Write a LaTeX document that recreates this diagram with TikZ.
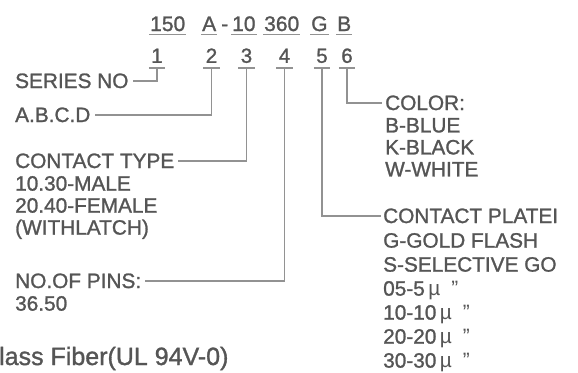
\documentclass[tikz,border=0pt]{standalone}
\usepackage{fontspec}
\setmainfont{Liberation Sans}
\newfontfamily\semibold[FakeBold=1.2]{Liberation Sans}
\usetikzlibrary{positioning}
\definecolor{inkgray}{HTML}{555555}
\definecolor{wiregray}{HTML}{929292}

\begin{document}
\begin{tikzpicture}[
    x=1pt, y=-1pt,
    every node/.style={text=inkgray, inner sep=0pt},
    code/.style={font=\fontsize{21}{21}\semibold, anchor=base west, inner xsep=1pt, inner ysep=3pt, text height=15pt, text depth=0pt},
    digit/.style={font=\fontsize{20.5}{20}\semibold, anchor=south, minimum width=16pt, inner ysep=5pt, text height=14pt, text depth=0pt},
    tag/.style={font=\fontsize{20.8}{22}\semibold, anchor=base west, text height=14pt, text depth=0pt},
    notes/.style={font=\fontsize{20.8}{22}\semibold, align=left},
    wire/.style={draw=wiregray, line width=1.3pt}
]
    \useasboundingbox[fill=white] (0,0) rectangle (578,372);

    % part number
    \node[code] (c150) at (149,31) {150};
    \node[code] (cA) at (201,31) {A};
    \node[code, inner ysep=0pt] (cdash) at (220,31) {-};
    \node[code] (c10) at (231,31) {10};
    \node[code] (c360) at (263,31) {360};
    \node[code] (cG) at (310,31) {G};
    \node[code] (cB) at (336,31) {B};
    \foreach \c in {c150,cA,c10,c360,cG,cB}
        \draw[wire] (\c.south west) -- (\c.south east);

    % position numbers
    \node[digit] (d1) at (157,68) {1};
    \node[digit] (d2) at (211.5,68) {2};
    \node[digit] (d3) at (246.5,68) {3};
    \node[digit] (d4) at (284.5,68) {4};
    \node[digit] (d5) at (322,68) {5};
    \node[digit] (d6) at (347,68) {6};
    \foreach \d in {d1,d2,d3,d4,d5,d6}
        \draw[wire] (\d.south west) -- (\d.south east);

    % left side
    \node[tag] (series) at (15,88) {SERIES NO};
    \node[tag] (abcd) at (15,122) {A.B.C.D};
    \node[tag] (ctype) at (15,168) {CONTACT TYPE};
    \node[notes, below=7.7pt of ctype.south west, anchor=north west] (ctypelist)
        {10.30-MALE\\20.40-FEMALE\\(WITHLATCH)};
    \node[tag] (npins) at (15,288) {NO.OF PINS:};
    \node[notes, below=7.7pt of npins.south west, anchor=north west] (npinslist) {36.50};

    % right side
    \node[tag] (color) at (385,110) {COLOR:};
    \node[notes, below=7.7pt of color.south west, anchor=north west] (colorlist)
        {B-BLUE\\K-BLACK\\W-WHITE};
    \node[tag] (plating) at (383,223) {CONTACT PLATEI};
    \node[notes, font=\fontsize{20.8}{24}\semibold, below=9.7pt of plating.south west, anchor=north west] (platinglist)
        {G-GOLD FLASH\\S-SELECTIVE GO\\
         05-5\,{\rmfamily µ}\hspace{11pt}{\rmfamily"}\\10-10\,{\rmfamily µ}\hspace{11pt}{\rmfamily"}\\
         20-20\,{\rmfamily µ}\hspace{11pt}{\rmfamily"}\\30-30\,{\rmfamily µ}\hspace{11pt}{\rmfamily"}};

    \node[font=\fontsize{25}{25}\semibold, anchor=base west] (fiber) at (-1,365) {lass Fiber(UL 94V-0)};

    % leaders
    \draw[wire] (d1.south) |- ([xshift=4pt]series.east);
    \draw[wire] (d2.south) |- ([xshift=4pt]abcd.east);
    \draw[wire] (d3.south) |- ([xshift=4pt]ctype.east);
    \draw[wire] (d4.south) |- ([xshift=4pt]npins.east);
    \draw[wire] (d5.south) |- ([xshift=-2pt]plating.west);
    \draw[wire] (d6.south) |- ([xshift=-3pt]color.west);
\end{tikzpicture}
\end{document}
